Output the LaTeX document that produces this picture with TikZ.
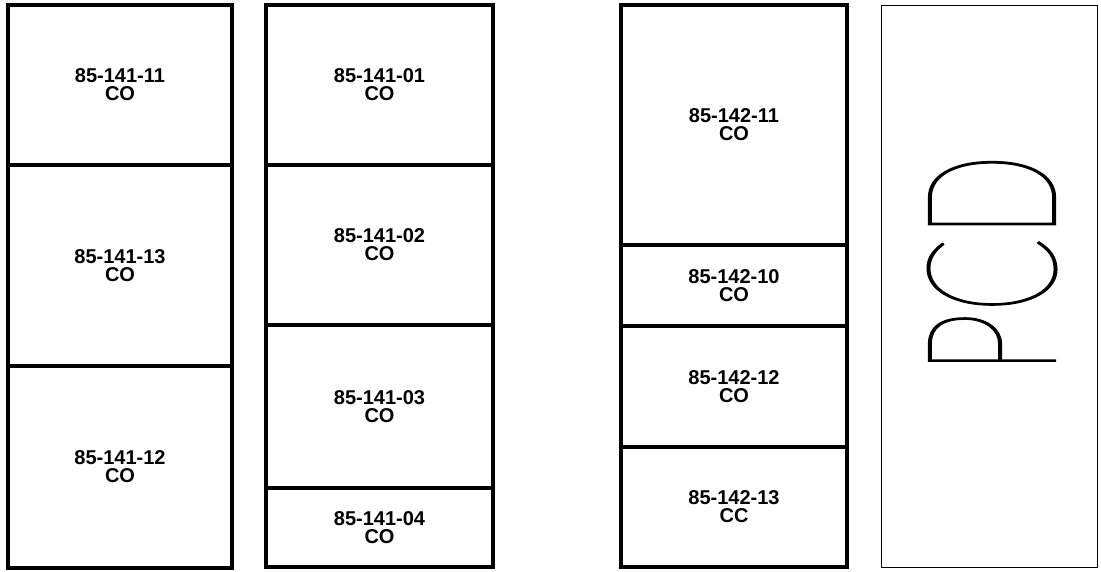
\documentclass[tikz,border=0pt]{standalone}
\usepackage{fontspec}
\setmainfont{Liberation Sans}
\IfFontExistsTF{Lato Thin}{\newfontfamily\pcdfont{Lato Thin}[FakeBold=1.2]}{%
 \IfFontExistsTF{Fira Sans Thin}{\newfontfamily\pcdfont{Fira Sans Thin}[FakeBold=1.2]}{%
  \IfFontExistsTF{DejaVu Sans ExtraLight}{\newfontfamily\pcdfont{DejaVu Sans ExtraLight}[FakeBold=1.2]}{%
   \newfontfamily\pcdfont{Liberation Sans}}}}
\begin{document}
\begin{tikzpicture}[x=1pt,y=-1pt,
  cell/.style={draw, line width=3.5pt, rectangle, inner sep=0pt, align=center,
    font=\bfseries\fontsize{20}{18}\selectfont},
  c1/.style={cell, minimum width=224pt},
  c2/.style={cell, minimum width=227pt},
  c3/.style={cell, minimum width=226pt},
  pcdbox/.style={draw, line width=1pt, rectangle, inner sep=0pt}]
\useasboundingbox (0,0) rectangle (1101,571);
% column 1
\node[c1, minimum height=160pt] (a1) at (120,85) {85-141-11\\CO};
\node[c1, minimum height=201pt] (a2) at (120,265.5) {85-141-13\\CO};
\node[c1, minimum height=202pt] (a3) at (120,467) {85-141-12\\CO};
% column 2
\node[c2, minimum height=160pt] (b1) at (379.5,85) {85-141-01\\CO};
\node[c2, minimum height=160pt] (b2) at (379.5,245) {85-141-02\\CO};
\node[c2, minimum height=163pt] (b3) at (379.5,406.5) {85-141-03\\CO};
\node[c2, minimum height=79pt] (b4) at (379.5,527.5) {85-141-04\\CO};
% column 3
\node[c3, minimum height=240pt] (d1) at (734,125) {85-142-11\\CO};
\node[c3, minimum height=81pt] (d2) at (734,285.5) {85-142-10\\CO};
\node[c3, minimum height=121pt] (d3) at (734,386.5) {85-142-12\\CO};
\node[c3, minimum height=120pt] (d4) at (734,507) {85-142-13\\CC};
% PCD box
\node[pcdbox, minimum width=216pt, minimum height=562pt] (pcdframe) at (989,286) {};
\node[rotate=90, inner sep=0pt] (pcd) at (992,264) {\pcdfont\fontsize{100}{100}\selectfont\scalebox{1.1}[1.8]{PCD}};
\end{tikzpicture}
\end{document}
